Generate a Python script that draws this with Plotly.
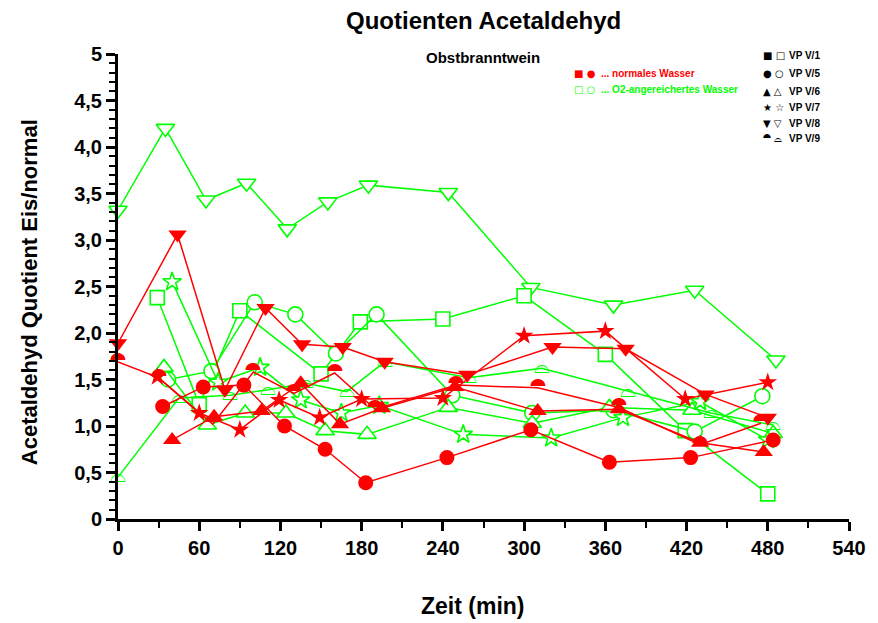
import plotly.graph_objects as go

RED = "#ff0000"
GREEN = "#00ff00"

# ---- normales Wasser (gefüllte Symbole) ----
t_v5_n = [33, 63, 93, 123, 153, 183, 243, 305, 363, 423, 484]
q_v5_n = [1.21, 1.42, 1.44, 1.00, 0.75, 0.39, 0.66, 0.96, 0.61, 0.66, 0.85]

t_v6_n = [40, 71, 106, 135, 164, 195, 249, 310, 370, 430, 477]
q_v6_n = [0.85, 1.10, 1.16, 1.46, 1.02, 1.19, 1.42, 1.16, 1.18, 0.82, 0.72]

t_v7_n = [29, 60, 90, 119, 149, 180, 240, 300, 360, 419, 480]
q_v7_n = [1.53, 1.14, 0.96, 1.28, 1.09, 1.29, 1.30, 1.97, 2.02, 1.29, 1.47]

t_v8_n = [0, 44, 79, 109, 136, 166, 197, 258, 321, 375, 434, 480]
q_v8_n = [1.89, 3.06, 1.39, 2.27, 1.88, 1.85, 1.69, 1.55, 1.85, 1.83, 1.34, 1.09]

t_v9_n = [0, 30, 70, 100, 130, 160, 190, 250, 310, 370, 430, 475]
q_v9_n = [1.69, 1.52, 1.02, 1.58, 1.35, 1.57, 1.18, 1.44, 1.41, 1.20, 0.80, 1.03]

# ---- O2-angereichertes Wasser (offene Symbole) ----
t_v1_o = [29, 60, 90, 150, 179, 240, 300, 360, 419, 480]
q_v1_o = [2.38, 1.23, 2.24, 1.56, 2.12, 2.15, 2.40, 1.77, 0.95, 0.27]

t_v5_o = [37, 69, 101, 131, 161, 191, 247, 306, 366, 426, 476]
q_v5_o = [1.50, 1.59, 2.33, 2.20, 1.78, 2.20, 1.33, 1.14, 1.17, 0.94, 1.32]

t_v6_o = [34, 66, 94, 124, 153, 184, 244, 306, 363, 424, 484]
q_v6_o = [1.63, 1.01, 1.14, 1.14, 0.95, 0.91, 1.20, 1.03, 1.20, 1.17, 0.92]

t_v7_o = [40, 74, 105, 135, 165, 193, 255, 320, 373, 430, 480]
q_v7_o = [2.55, 1.47, 1.63, 1.28, 1.14, 1.22, 0.91, 0.87, 1.09, 1.26, 0.85]

t_v8_o = [0, 35, 65, 95, 125, 155, 185, 244, 305, 366, 426, 486]
q_v8_o = [3.32, 4.20, 3.43, 3.61, 3.12, 3.41, 3.59, 3.51, 2.49, 2.30, 2.46, 1.71]

t_v9_o = [0, 45, 83, 111, 139, 169, 197, 259, 313, 377, 438, 484]
q_v9_o = [0.45, 1.30, 1.33, 1.39, 1.46, 1.37, 1.69, 1.52, 1.62, 1.37, 1.14, 1.01]

x_ticks = [0, 60, 120, 180, 240, 300, 360, 420, 480, 540]
y_ticks = [0, 0.5, 1.0, 1.5, 2.0, 2.5, 3.0, 3.5, 4.0, 4.5, 5.0]
y_ticktext = ["0", "0,5", "1,0", "1,5", "2,0", "2,5", "3,0", "3,5", "4,0", "4,5", "5"]

FONT = "Liberation Sans, Arial, sans-serif"
SYMFONT = "DejaVu Sans, Noto Sans, sans-serif"

fig = go.Figure()


def marker_series(t, q, color, symbol, filled, size=14):
    fig.add_trace(go.Scatter(
        x=t, y=q, mode="lines+markers", cliponaxis=False, showlegend=False,
        line=dict(color=color, width=1.5),
        marker=dict(symbol=symbol, size=size,
                    color=color if filled else "white",
                    line=dict(color=color, width=0 if filled else 1.6)),
    ))


def dome_series(t, q, color, glyph):
    # half-circle symbols are drawn as centred glyphs
    fig.add_trace(go.Scatter(
        x=t, y=q, mode="lines+text", cliponaxis=False, showlegend=False,
        line=dict(color=color, width=1.5),
        text=[glyph] * len(t), textposition="middle center",
        textfont=dict(family=SYMFONT, size=20, color=color),
    ))


# O2-angereichert
marker_series(t_v8_o, q_v8_o, GREEN, "triangle-down", False, 16)
marker_series(t_v1_o, q_v1_o, GREEN, "square", False, 14)
marker_series(t_v5_o, q_v5_o, GREEN, "circle", False, 15)
marker_series(t_v6_o, q_v6_o, GREEN, "triangle-up", False, 16)
marker_series(t_v7_o, q_v7_o, GREEN, "star", False, 14)
dome_series(t_v9_o, q_v9_o, GREEN, "\u2313")

# normales Wasser
marker_series(t_v8_n, q_v8_n, RED, "triangle-down", True, 16)
marker_series(t_v5_n, q_v5_n, RED, "circle", True, 15)
marker_series(t_v6_n, q_v6_n, RED, "triangle-up", True, 16)
marker_series(t_v7_n, q_v7_n, RED, "star", True, 14)
dome_series(t_v9_n, q_v9_n, RED, "\u2bca")

# plot area in pixels (for placing annotations)
X0, X1, Y0, Y1 = 118, 859, 519, 54


def px(xp):
    return (xp - X0) / (X1 - X0)


def py(yp):
    return (Y0 - yp) / (Y0 - Y1)


ann = []


def text(xp, yp, s, size, color="black", xanchor="center", angle=0, family=FONT, bold=True):
    ann.append(dict(
        x=px(xp), y=py(yp), xref="paper", yref="paper", text=s, showarrow=False,
        xanchor=xanchor, yanchor="middle", textangle=angle,
        font=dict(family=family, size=size, color=color, weight="bold" if bold else "normal"),
    ))


text(488, 21, "Quotienten Acetaldehyd", 24)
text(488, 57, "Obstbranntwein", 15)
text(478, 606, "Zeit (min)", 23)
text(28, 292, "Acetaldehyd Quotient Eis/normal", 22, angle=-90)

# Legende Wasserart
text(578, 74, "\u25a0 \u25cf", 10, RED, "left", family=SYMFONT, bold=False)
text(606, 74, "... normales Wasser", 10, RED, "left")
text(578, 89, "\u25a1 \u25cb", 10, GREEN, "left", family=SYMFONT, bold=False)
text(606, 89, "... O2-angereichertes Wasser", 10, GREEN, "left")

# Legende Versuchspersonen
vp_rows = [("\u25a0 \u25a1", "VP V/1"), ("\u25cf \u25cb", "VP V/5"), ("\u25b2 \u25b3", "VP V/6"),
           ("\u2605 \u2606", "VP V/7"), ("\u25bc \u25bd", "VP V/8"), ("\u2bca \u2313", "VP V/9")]
for i, (sym, lab) in enumerate(vp_rows):
    yp = [56, 74, 91, 107, 123, 139][i]
    text(770, yp, sym, 10, "black", "left", family=SYMFONT, bold=False)
    text(796, yp, lab, 10, "black", "left")

fig.update_layout(
    width=878, height=623,
    margin=dict(l=X0, r=878 - X1, t=Y1, b=623 - Y0),
    paper_bgcolor="white", plot_bgcolor="white",
    annotations=ann,
    xaxis=dict(
        range=[0, 540], tickvals=x_ticks, showgrid=False, zeroline=False,
        showline=True, linecolor="black", linewidth=3,
        ticks="outside", ticklen=9, tickwidth=2.5, tickcolor="black",
        tickfont=dict(family=FONT, size=20, color="black", weight="bold"),
        minor=dict(dtick=30, tick0=0, ticks="outside", ticklen=6, tickwidth=2, tickcolor="black"),
    ),
    yaxis=dict(
        range=[0, 5], tickvals=y_ticks, ticktext=y_ticktext, showgrid=False, zeroline=False,
        showline=True, linecolor="black", linewidth=3,
        ticks="outside", ticklen=9, tickwidth=2.5, tickcolor="black",
        tickfont=dict(family=FONT, size=20, color="black", weight="bold"),
        minor=dict(dtick=0.1, tick0=0, ticks="outside", ticklen=6, tickwidth=2, tickcolor="black"),
    ),
)

fig.write_html("out.html")
